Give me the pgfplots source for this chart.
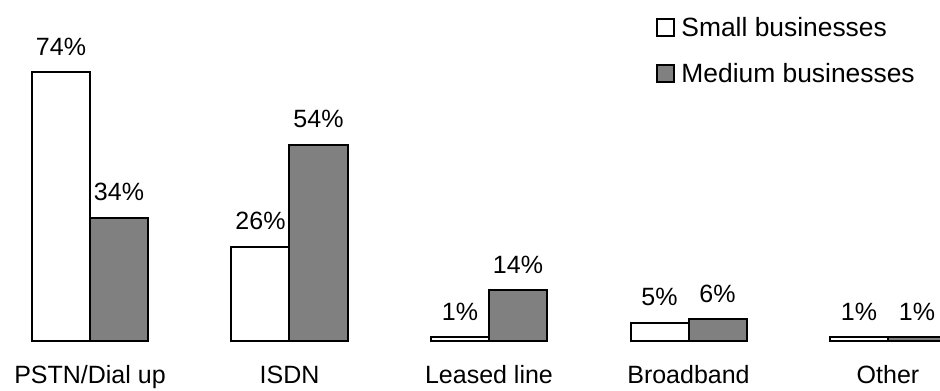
\documentclass[border=0pt]{standalone}
\usepackage{pgfplots}
\pgfplotsset{compat=1.18}
\usepackage{fontspec}
\setmainfont{Liberation Sans}
\definecolor{medgrey}{HTML}{808080}
\newcommand{\chartfont}{\fontsize{12.5}{15}\selectfont}
\newcommand{\legendfont}{\fontsize{13.2}{16}\selectfont}
\begin{document}
\begin{tikzpicture}
\begin{axis}[
  scale only axis,
  width=470pt, height=195pt,
  xmin=-0.4511, xmax=4.2607,
  ymin=-13.5, ymax=93.9,
  axis line style={draw=none},
  tick style={draw=none},
  ytick=\empty,
  xtick={0,1,2,3,4},
  xticklabels={PSTN/Dial up, ISDN, Leased line, Broadband, Other},
  xticklabel style={font=\chartfont, anchor=base, yshift=7.5pt},
  /pgf/number format/assume math mode=true,
  ybar=0pt,
  bar width=29pt,
  nodes near coords={\pgfmathprintnumber{\pgfplotspointmeta}\%},
  every node near coord/.append style={font=\chartfont, anchor=base, yshift=8.5pt},
  legend style={
    at={(rel axis cs:0.6979,0.9564)}, anchor=north west,
    draw=none, fill=none, inner sep=0pt, row sep=12pt, column sep=3pt,
    font=\legendfont,
    nodes={inner sep=0pt},
  },
  legend cell align=left,
  legend image code/.code={
    \draw[#1, line width=1pt] (0pt,-3.8pt) rectangle (8.5pt,4.7pt);
  },
]
\addplot[draw=black, fill=white, line width=1pt]
  coordinates {(0,74) (1,26) (2,1) (3,5) (4,1)};
\addlegendentry{Small businesses}
\addplot[draw=black, fill=medgrey, line width=1pt]
  coordinates {(0,34) (1,54) (2,14) (3,6) (4,1)};
\addlegendentry{Medium businesses}
\end{axis}
\pgfresetboundingbox
\useasboundingbox (current axis.south west) rectangle (current axis.north east);
\end{tikzpicture}
\end{document}
